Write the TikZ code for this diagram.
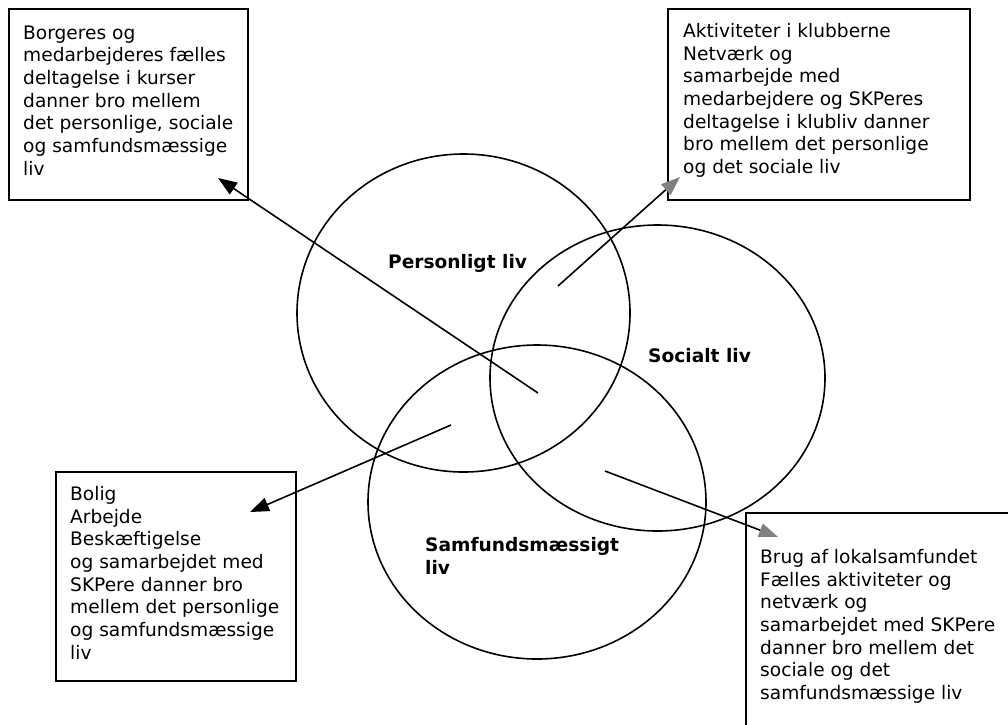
\documentclass[tikz,border=0pt]{standalone}
\usepackage{fontspec}
\setmainfont{DejaVu Sans}
\usetikzlibrary{shapes.geometric,arrows.meta}
\tikzset{
  venn/.style={ellipse, draw, line width=1.6pt, inner sep=0pt, outer sep=0pt},
  boxframe/.style={draw, line width=1.6pt, anchor=north west, inner sep=0pt, outer sep=0pt},
  boxtext/.style={anchor=north west, align=left, inner sep=0pt, font=\fontsize{18.6}{22.7}\selectfont},
  venntext/.style={inner sep=0pt, font=\fontsize{18.6}{22.7}\selectfont\bfseries},
  blackarrow/.style={line width=1.6pt, -{Triangle[length=19pt,width=14pt]}},
  grayarrow/.style={line width=1.6pt, -{Triangle[length=19pt,width=14pt,color=gray]}},
}
\begin{document}
\begin{tikzpicture}[x=1pt,y=-1pt]
\useasboundingbox (0,0) rectangle (1008,724);
\begin{scope}
\clip (0,0) rectangle (1008,724);
% circles
\node[venn, minimum width=333pt, minimum height=318pt] (c1) at (463.5,313) {};
\node[venn, minimum width=335pt, minimum height=306pt] (c2) at (657.5,378) {};
\node[venn, minimum width=338pt, minimum height=314pt] (c3) at (537,502) {};
% circle labels
\node[venntext, anchor=base west] (l1) at (388,268) {Personligt liv};
\node[venntext, anchor=base west] (l2) at (648,362) {Socialt liv};
\node[venntext, anchor=north west, align=left] (l3) at (425,537) {Samfundsmæssigt\\liv};
% boxes
\node[boxframe, minimum width=239pt, minimum height=191pt] (b1) at (9,9) {};
\node[boxframe, minimum width=302pt, minimum height=191pt] (b2) at (668,9) {};
\node[boxframe, minimum width=240pt, minimum height=209pt] (b3) at (56,472) {};
\node[boxframe, minimum width=300pt, minimum height=250pt] (b4) at (746,513) {};
% box texts
\node[boxtext] (t1) at (23,25.4) {Borgeres og\\medarbejderes fælles\\deltagelse i kurser\\danner bro mellem\\det personlige, sociale\\og samfundsmæssige\\liv};
\node[boxtext] (t2) at (683,23) {Aktiviteter i klubberne\\Netværk og\\samarbejde med\\medarbejdere og SKPeres\\deltagelse i klubliv danner\\bro mellem det personlige\\og det sociale liv};
\node[boxtext] (t3) at (70,486) {Bolig\\Arbejde\\Beskæftigelse\\og samarbejdet med\\SKPere danner bro\\mellem det personlige\\og samfundsmæssige\\liv};
\node[boxtext] (t4) at (760,549) {Brug af lokalsamfundet\\Fælles aktiviteter og\\netværk og\\samarbejdet med SKPere\\danner bro mellem det\\sociale og det\\samfundsmæssige liv};
% arrow end points
\coordinate (a1s) at (538,393);
\coordinate (a1e) at (218,178);
\coordinate (a2s) at (558,286);
\coordinate (a2e) at (680,177);
\coordinate (a3s) at (451,425);
\coordinate (a3e) at (250,512);
\coordinate (a4s) at (605,471);
\coordinate (a4e) at (778,537);
\draw[blackarrow] (a1s) -- (a1e);
\draw[grayarrow] (a2s) -- (a2e);
\draw[blackarrow] (a3s) -- (a3e);
\draw[grayarrow] (a4s) -- (a4e);
\end{scope}
\end{tikzpicture}
\end{document}
